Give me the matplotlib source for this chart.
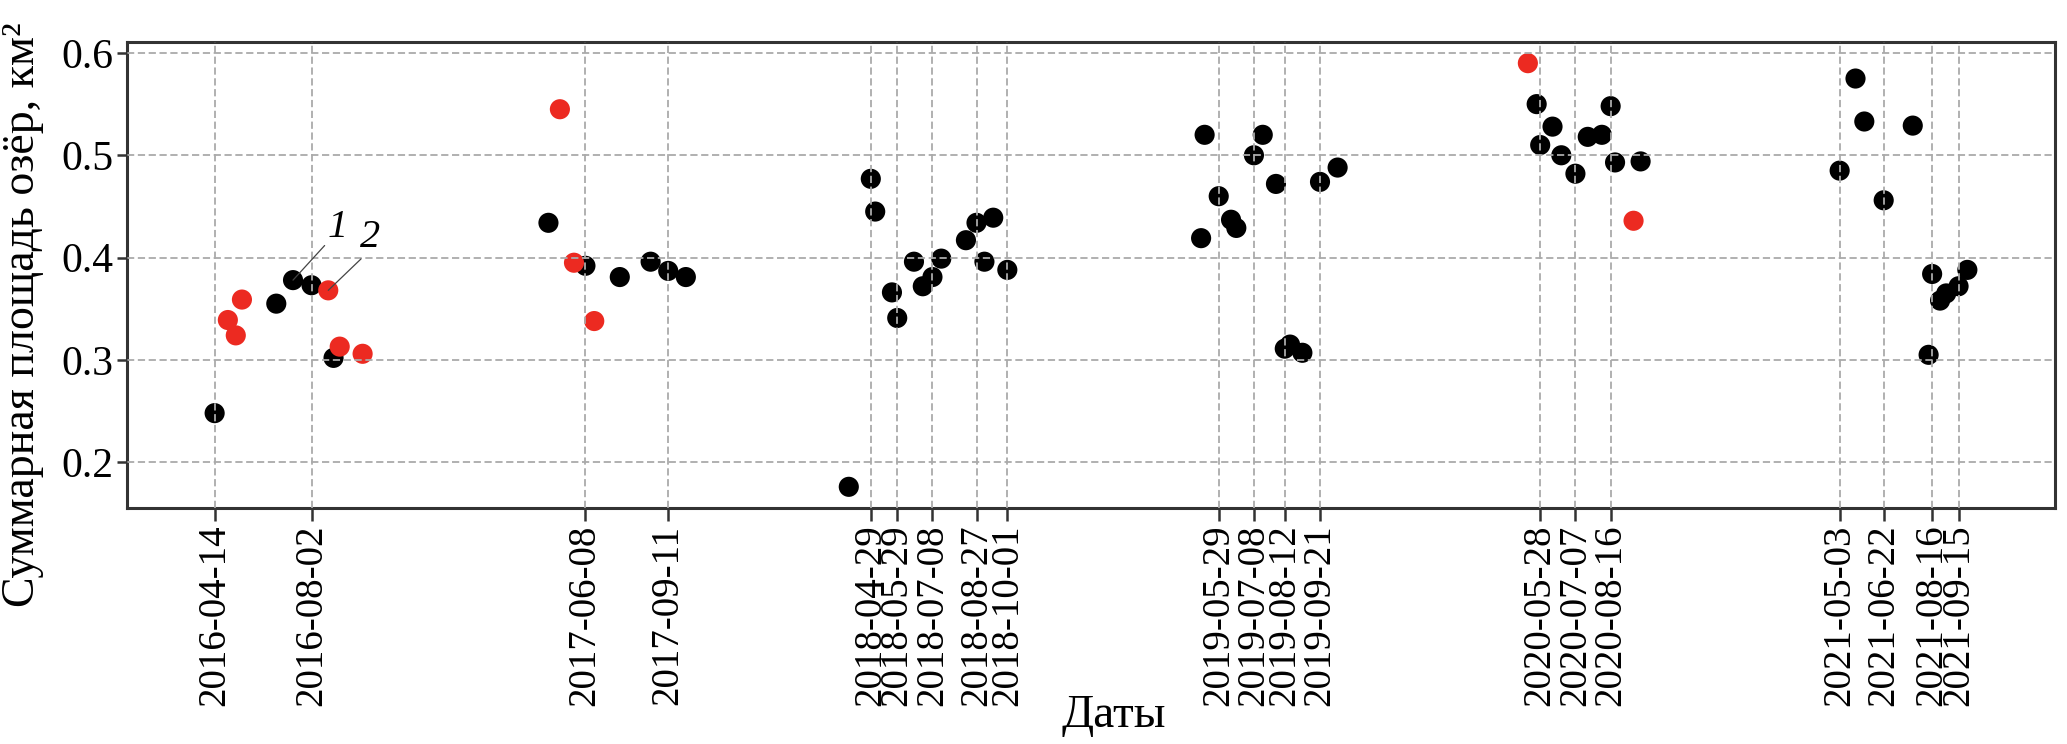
import matplotlib
matplotlib.use("Agg")
import matplotlib.pyplot as plt
import matplotlib.dates as mdates
import numpy as np
import pandas as pd

plt.rcParams['font.family'] = ['Liberation Serif', 'DejaVu Serif']

# Series 1 (black)
dates_1 = ["2016-04-14", "2016-06-23", "2016-07-12", "2016-08-02", "2016-08-27",
           "2017-04-28", "2017-06-09", "2017-07-18", "2017-08-22", "2017-09-11", "2017-10-01",
           "2018-04-04", "2018-04-29", "2018-05-04", "2018-05-23", "2018-05-29", "2018-06-17",
           "2018-06-27", "2018-07-08", "2018-07-18", "2018-08-15", "2018-08-27", "2018-09-05",
           "2018-09-15", "2018-10-01",
           "2019-05-09", "2019-05-13", "2019-05-29", "2019-06-12", "2019-06-18", "2019-07-08",
           "2019-07-18", "2019-08-02", "2019-08-12", "2019-08-18", "2019-09-01", "2019-09-21",
           "2019-10-11",
           "2020-05-24", "2020-05-28", "2020-06-11", "2020-06-21", "2020-07-07", "2020-07-21",
           "2020-08-06", "2020-08-16", "2020-08-21", "2020-09-19",
           "2021-05-03", "2021-05-21", "2021-05-31", "2021-06-22", "2021-07-25", "2021-08-12",
           "2021-08-16", "2021-08-25", "2021-09-01", "2021-09-15", "2021-09-25"]
values_1 = [0.248, 0.355, 0.378, 0.373, 0.302,
            0.434, 0.392, 0.381, 0.396, 0.387, 0.381,
            0.176, 0.477, 0.445, 0.366, 0.341, 0.396,
            0.372, 0.381, 0.399, 0.417, 0.434, 0.396,
            0.439, 0.388,
            0.419, 0.520, 0.460, 0.437, 0.429, 0.500,
            0.520, 0.472, 0.311, 0.315, 0.307, 0.474,
            0.488,
            0.550, 0.510, 0.528, 0.500, 0.482, 0.518,
            0.520, 0.548, 0.493, 0.494,
            0.485, 0.575, 0.533, 0.456, 0.529, 0.305,
            0.384, 0.358, 0.365, 0.372, 0.388]

# Series 2 (red)
dates_2 = ["2016-04-29", "2016-05-08", "2016-05-15", "2016-08-21", "2016-09-03", "2016-09-29",
           "2017-05-11", "2017-05-27", "2017-06-19",
           "2020-05-14", "2020-09-11"]
values_2 = [0.339, 0.324, 0.359, 0.368, 0.313, 0.306,
            0.545, 0.395, 0.338,
            0.590, 0.436]

tick_dates = ["2016-04-14", "2016-08-02", "2017-06-08", "2017-09-11",
              "2018-04-29", "2018-05-29", "2018-07-08", "2018-08-27", "2018-10-01",
              "2019-05-29", "2019-07-08", "2019-08-12", "2019-09-21",
              "2020-05-28", "2020-07-07", "2020-08-16",
              "2021-05-03", "2021-06-22", "2021-08-16", "2021-09-15"]
y_ticks = [0.2, 0.3, 0.4, 0.5, 0.6]

x1 = pd.to_datetime(dates_1)
x2 = pd.to_datetime(dates_2)
xt = pd.to_datetime(tick_dates)

fig = plt.figure(figsize=(20.67, 7.44), dpi=100)
ax = fig.add_axes([127/2067, 1-508/744, (2055-127)/2067, (508-42)/744])

ax.scatter(x1, values_1, s=210, color='black', edgecolors='none', zorder=2)
ax.scatter(x2, values_2, s=210, color='#ec2a21', edgecolors='none', zorder=2)

ax.set_xticks(xt)
ax.xaxis.set_major_formatter(mdates.DateFormatter('%Y-%m-%d'))
ax.set_yticks(y_ticks)
ax.yaxis.set_major_formatter(matplotlib.ticker.FormatStrFormatter('%.1f'))
ax.tick_params(axis='x', labelrotation=90, labelsize=28, length=9, width=1.8, pad=3, color='#333333')
ax.tick_params(axis='y', labelsize=30, length=7, width=1.8, pad=3, color='#333333')

ax.grid(True, linestyle=(0, (4, 2)), color='#aaaaaa', linewidth=1.3, zorder=3)
ax.set_axisbelow(False)

for sp in ax.spines.values():
    sp.set_linewidth(2.2)
    sp.set_color('#333333')

ax.set_ylabel('Суммарная площадь озёр, км²', fontsize=33)
ax.yaxis.set_label_coords(-0.043, 0.415)
ax.set_xlabel('Даты', fontsize=34)
ax.xaxis.set_label_coords(0.512, -0.40)

# annotations
i1 = 2
ax.annotate('1', xy=(x1[i1], values_1[i1]), xytext=(32, 38), textcoords='offset points',
            ha='center', va='center', fontsize=29, style='italic',
            arrowprops=dict(arrowstyle='-', color='#444444', lw=0.9, shrinkA=0, shrinkB=0,
                            relpos=(0.15, 0.18)), zorder=4)
i2 = 3
ax.annotate('2', xy=(x2[i2], values_2[i2]), xytext=(30, 38), textcoords='offset points',
            ha='center', va='center', fontsize=29, style='italic',
            arrowprops=dict(arrowstyle='-', color='#444444', lw=0.9, shrinkA=0, shrinkB=0,
                            relpos=(0.3, 0.05)), zorder=4)

fig.savefig('out.png', dpi=100)
